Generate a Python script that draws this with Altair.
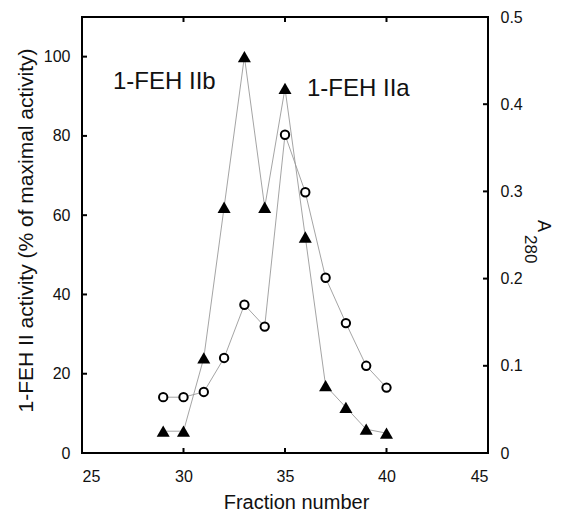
import altair as alt
import pandas as pd

# ---- data ----
fraction = [29, 30, 31, 32, 33, 34, 35, 36, 37, 38, 39, 40]
activity = [5.5, 5.5, 24, 62, 100, 62, 92, 54.5, 17, 11.5, 6, 5]          # % of maximal activity (left axis)
a280 = [0.064, 0.064, 0.070, 0.109, 0.170, 0.145, 0.365, 0.299, 0.201, 0.149, 0.100, 0.075]  # A280 (right axis)

x_label_values = [25, 30, 35, 40, 45]
left_label_values = [0, 20, 40, 60, 80, 100]
right_label_values = [0, 0.1, 0.2, 0.3, 0.4, 0.5]
x_tick_marks = [30, 35, 40]
left_tick_marks = [20, 40, 60, 80, 100]
right_tick_marks = [0.1, 0.2, 0.3, 0.4]
peak_labels = ["1-FEH IIb", "1-FEH IIa"]

W, H = 406, 436
FONT = "Liberation Sans"

df = pd.DataFrame({"fraction": fraction, "activity": activity, "a280": a280})
xt = pd.DataFrame({"v": x_tick_marks})
lt = pd.DataFrame({"v": left_tick_marks})
rt = pd.DataFrame({"v": right_tick_marks})

xs = alt.Scale(domain=[25, 45], nice=False, zero=False)
ls = alt.Scale(domain=[0, 110], nice=False)
rs = alt.Scale(domain=[0, 0.5], nice=False)

x_axis = alt.Axis(values=x_label_values, ticks=False, tickSize=0, domain=False, grid=False,
                  labelFontSize=16, labelPadding=15, labelFont=FONT, labelColor="#111",
                  title="Fraction number", titleFontSize=20, titleFont=FONT, titleFontWeight="normal",
                  titleColor="#111", titleX=214, titleY=55, titleBaseline="alphabetic", titleAlign="center")
l_axis = alt.Axis(values=left_label_values, ticks=False, tickSize=0, domain=False, grid=False,
                  labelFontSize=16, labelPadding=12, labelFont=FONT, labelColor="#111",
                  title="1-FEH II activity (% of maximal activity)", titleFontSize=21, titleFont=FONT,
                  titleFontWeight="normal", titleColor="#111", titleX=-50, titleY=213,
                  titleBaseline="alphabetic", titleAlign="center", titleAngle=270)
r_axis = alt.Axis(values=right_label_values, orient="right", ticks=False, tickSize=0, domain=False, grid=False,
                  labelFontSize=16, labelPadding=12, labelFont=FONT, labelColor="#111",
                  labelExpr="datum.value == 0 ? '0' : format(datum.value, '.1f')", title=None)

X = alt.X("fraction:Q", scale=xs, axis=x_axis)
XV = alt.X("v:Q", scale=xs, axis=x_axis)

base = alt.Chart(df)

tri_line = base.mark_line(color="#9a9a9a", strokeWidth=0.9).encode(
    x=X, y=alt.Y("activity:Q", scale=ls, axis=l_axis))
tri_pts = base.mark_point(shape="triangle-up", filled=True, color="black", size=170, opacity=1).encode(
    x=X, y=alt.Y("activity:Q", scale=ls, axis=l_axis))
l_ticks = alt.Chart(lt).mark_rule(color="black", strokeWidth=2).encode(
    y=alt.Y("v:Q", scale=ls, axis=l_axis), x=alt.value(0), x2=alt.value(5))
top_ticks = alt.Chart(xt).mark_rule(color="black", strokeWidth=2).encode(
    x=XV, y=alt.value(0), y2=alt.value(5))
bot_ticks = alt.Chart(xt).mark_rule(color="black", strokeWidth=2).encode(
    x=XV, y=alt.value(H - 5), y2=alt.value(H))

lab_df = pd.DataFrame({"label": peak_labels})
lab1 = alt.Chart(lab_df).transform_filter("datum.label == '1-FEH IIb'").mark_text(
    font=FONT, fontSize=24, align="left", baseline="alphabetic", color="#111").encode(
    text="label:N", x=alt.value(31), y=alt.value(72))
lab2 = alt.Chart(lab_df).transform_filter("datum.label == '1-FEH IIa'").mark_text(
    font=FONT, fontSize=24, align="left", baseline="alphabetic", color="#111").encode(
    text="label:N", x=alt.value(225), y=alt.value(79))

left = alt.layer(tri_line, top_ticks, bot_ticks, l_ticks, lab1, lab2, tri_pts)

circ_line = base.mark_line(color="#9a9a9a", strokeWidth=0.9).encode(
    x=X, y=alt.Y("a280:Q", scale=rs, axis=r_axis))
circ_pts = base.mark_point(shape="circle", filled=False, color="black", fill="white", fillOpacity=1,
                           strokeWidth=2, size=70, opacity=1).encode(
    x=X, y=alt.Y("a280:Q", scale=rs, axis=r_axis))
r_ticks = alt.Chart(rt).mark_rule(color="black", strokeWidth=2).encode(
    y=alt.Y("v:Q", scale=rs, axis=r_axis), x=alt.value(W - 5), x2=alt.value(W))
rt_a = alt.Chart(pd.DataFrame({"t": ["A"]})).mark_text(
    font=FONT, fontSize=18, angle=90, align="left", baseline="alphabetic", color="#111").encode(
    text="t:N", x=alt.value(456), y=alt.value(203))
rt_sub = alt.Chart(pd.DataFrame({"t": ["280"]})).mark_text(
    font=FONT, fontSize=17, angle=90, align="left", baseline="alphabetic", color="#111").encode(
    text="t:N", x=alt.value(443), y=alt.value(218))

right = alt.layer(circ_line, r_ticks, rt_a, rt_sub, circ_pts)

chart = alt.layer(left, right).resolve_scale(y="independent").properties(
    width=W, height=H,
    autosize=alt.AutoSizeParams(type="none"),
    padding={"left": 74, "top": 9, "right": 66, "bottom": 58},
).configure_view(stroke="black", strokeWidth=2)

chart.save("out.html", embed_options={"renderer": "svg", "actions": False})
